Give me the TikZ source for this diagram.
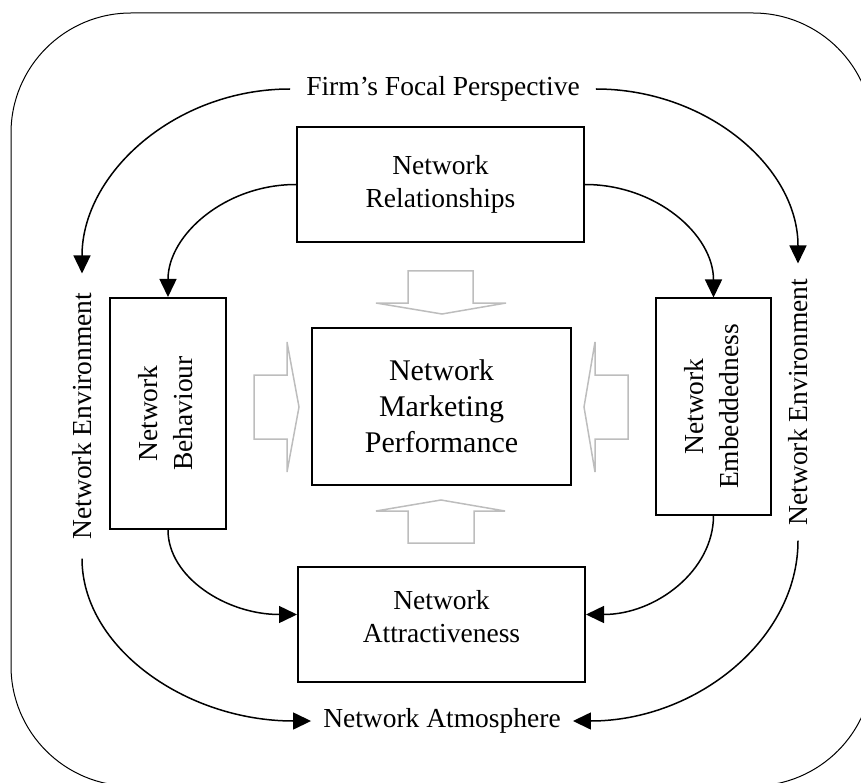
\documentclass[tikz,border=0pt]{standalone}
\usepackage{fontspec}
\setmainfont{Liberation Serif}
\usetikzlibrary{arrows.meta}
\begin{document}
\begin{tikzpicture}[x=1pt,y=-1pt,
  box/.style={draw, line width=2pt, inner sep=0pt, align=center, font=\fontsize{27.5}{33}\selectfont},
  rbox/.style={draw, line width=2pt, inner sep=0pt, font=\fontsize{27.5}{35}\selectfont},
  lbl/.style={inner ysep=0pt, font=\fontsize{27.5}{33}\selectfont},
  conn/.style={line width=1.5pt, -{Triangle[length=18pt,width=17pt]}},
  blockarrow/.style={draw=black!26, line width=1.5pt, line join=miter}]
\useasboundingbox (0,0) rectangle (861,783);
\begin{scope}
\clip (0,0) rectangle (861,783);
\draw[line width=1pt, rounded corners=120pt] (11,13) rectangle (873,786);
\end{scope}

% boxes
\node[box, minimum width=287pt, minimum height=115pt] (rel) at (440.5,184.5) {Network\\Relationships};
\node[rbox, minimum width=116pt, minimum height=231pt] (beh) at (168,413.5)
  {\rotatebox{90}{\begin{tabular}{@{}c@{}}Network\\Behaviour\end{tabular}}};
\node[box, minimum width=259pt, minimum height=157pt, font=\fontsize{30}{36}\selectfont] (perf) at (441.5,406.5) {Network\\Marketing\\Performance};
\node[rbox, minimum width=115pt, minimum height=216pt] (emb) at (713.5,406.5)
  {\rotatebox{90}{\begin{tabular}{@{}c@{}}Network\\Embeddedness\end{tabular}}};
\node[box, minimum width=287pt, minimum height=115pt] (att) at (441.5,624.5) {Network\\Attractiveness\\[-17pt]\mbox{}};

% labels
\node[lbl, inner xsep=16pt] (ffp) at (443,89) {Firm's Focal Perspective};
\node[lbl, rotate=90, inner xsep=19pt] (envL) at (82,416) {Network Environment};
\node[lbl, rotate=90, inner xsep=15pt] (envR) at (798,402) {Network Environment};
\node[lbl, inner xsep=12pt] (atm) at (442,721) {Network Atmosphere};

% connectors
\draw[conn] (ffp.west) .. controls +(-115,0) and +(0,-100) .. (envL.east);
\draw[conn] (ffp.east) .. controls +(110,0) and +(0,-97) .. (envR.east);
\draw[conn] (rel.west) .. controls +(-71,0) and +(0,-62) .. (beh.north);
\draw[conn] (rel.east) .. controls +(71,0) and +(0,-63) .. (emb.north);
\draw[conn] (envL.west) .. controls +(0,89) and +(-125,0) .. (atm.west);
\draw[conn] (envR.west) .. controls +(0,99) and +(123,0) .. (atm.east);
\draw[conn] (beh.south) .. controls +(0,47) and +(-71,0) .. ([yshift=10pt]att.west);
\draw[conn] (emb.south) .. controls +(0,55) and +(70,0) .. ([yshift=10pt]att.east);

% gray block arrows
\draw[blockarrow] (408,271) -- (473,271) -- (473,303) -- (506,303) -- (442,314) -- (376,303) -- (408,303) -- cycle;
\draw[blockarrow] (408,543) -- (474,543) -- (474,511) -- (505,511) -- (441,500) -- (376,511) -- (408,511) -- cycle;
\draw[blockarrow] (254,375) -- (287,375) -- (287,342) -- (299,407) -- (287,472) -- (287,439) -- (254,439) -- cycle;
\draw[blockarrow] (628,375) -- (595,375) -- (595,342) -- (584,407) -- (595,472) -- (595,439) -- (628,439) -- cycle;
\end{tikzpicture}
\end{document}
